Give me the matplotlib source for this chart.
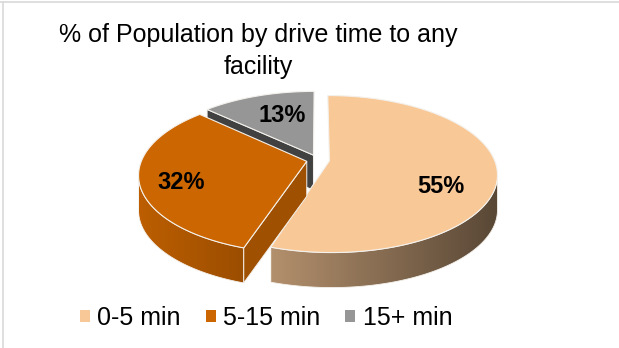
import numpy as np
import matplotlib
matplotlib.use('agg')
from matplotlib import pyplot as plt
from matplotlib.colors import to_rgb
from matplotlib.patches import Polygon, Patch
from matplotlib.lines import Line2D

plt.rcParams['font.family'] = ['Liberation Sans', 'DejaVu Sans']

title = '% of Population by drive time to any\nfacility'
categories = ['0-5 min', '5-15 min', '15+ min']
shares = [55, 32, 13]
colors = ['#F9C897', '#CC6600', '#969696']

# pie geometry in pixels (y grows downwards)
CX, CY = 318, 160
RX, RY = 165, 76
K = 0.168          # perspective: far edge of the disc shrinks
DEPTH = 35
EXPLODE = 0.07


def project(u, v, drop=0.0):
    d = 1 + K * v
    return CX + RX * u / d, CY - RY * v / d + drop


def shade(x):
    return np.interp(x, [140, 270, 495], [0.92, 0.72, 0.36])


def scaled(color, f):
    return tuple(np.clip(np.array(to_rgb(color)) * f, 0, 1))


fig = plt.figure(figsize=(6.19, 3.48), dpi=100)
ax = fig.add_axes([0, 0, 1, 1])
ax.set_xlim(0, 619)
ax.set_ylim(348, 0)
ax.axis('off')

# slices run clockwise from 12 o'clock
bounds = 90 - np.concatenate([[0], np.cumsum(shares)]) * 3.6
slices = []
for i in range(len(shares)):
    a0, a1 = bounds[i + 1], bounds[i]
    mid = np.radians((a0 + a1) / 2)
    slices.append((i, a0, a1, mid))

label_spots = {0: (0.71, -18), 1: (0.77, 6), 2: (0.63, -3.6)}
edge = '#f4f1ec'
z = 1
for i, a0, a1, mid in sorted(slices, key=lambda s: -np.sin(s[3])):
    base = colors[i]
    ox, oy = EXPLODE * np.cos(mid), EXPLODE * np.sin(mid)
    th = np.radians(np.linspace(a0, a1, 400))
    ru, rv = ox + np.cos(th), oy + np.sin(th)
    tx, ty = project(ru, rv)
    bx, by = project(ru, rv, DEPTH)
    axx, axy = project(ox, oy)

    # outer rim, only the part turned towards the viewer, shaded left to right
    seen = np.where(np.diff(tx) > 0)[0]
    if len(seen):
        j0, j1 = seen[0], seen[-1] + 1
        rim = np.column_stack([np.r_[tx[j0:j1 + 1], bx[j0:j1 + 1][::-1]],
                               np.r_[ty[j0:j1 + 1], by[j0:j1 + 1][::-1]]])
        clip = Polygon(rim, closed=True, fc='none', ec='none', transform=ax.transData)
        ax.add_patch(clip)
        xs = np.linspace(rim[:, 0].min(), rim[:, 0].max(), 300)
        grad = np.array([[scaled(base, shade(x)) for x in xs]])
        im = ax.imshow(grad, extent=(xs[0], xs[-1], rim[:, 1].max(), rim[:, 1].min()),
                       aspect='auto', interpolation='bilinear', zorder=z)
        im.set_clip_path(clip)
        ax.add_patch(Polygon(rim, closed=True, fc='none', ec=edge, lw=0.6, zorder=z))
        z += 1

    # cut faces
    for ang, nrm in ((a1, a1 + 90), (a0, a0 - 90)):
        n = np.radians(nrm)
        if np.sin(n) > -1e-6:
            continue
        a = np.radians(ang)
        px, py = project(ox + np.cos(a), oy + np.sin(a))
        face = [(axx, axy), (px, py), (px, py + DEPTH), (axx, axy + DEPTH)]
        f = 0.78 if np.cos(n) > 0 else 0.43
        ax.add_patch(Polygon(face, closed=True, fc=scaled(base, f), ec=edge,
                             lw=0.7, zorder=z))
        z += 1

    top = np.column_stack([np.r_[axx, tx], np.r_[axy, ty]])
    ax.add_patch(Polygon(top, closed=True, fc=base, ec=edge, lw=0.8, zorder=z))
    z += 1

    r, shift = label_spots[i]
    la = mid + np.radians(shift)
    lx, ly = project(ox + r * np.cos(la), oy + r * np.sin(la))
    ax.text(lx, ly, f'{shares[i]}%', ha='center', va='center', fontsize=17,
            fontweight='bold', color='black', zorder=50)

ax.set_xlim(0, 619)
ax.set_ylim(348, 0)

fig.text(258 / 619, 1 - 51 / 348, title, ha='center', va='center',
         fontsize=18, linespacing=1.38, color='black')

handles = [Patch(fc=c, ec='none') for c in colors]
fig.legend(handles, categories, loc='center', bbox_to_anchor=(266 / 619, 1 - 318 / 348),
           ncol=3, frameon=False, fontsize=18, handlelength=0.4, handleheight=0.4,
           handletextpad=0.3, columnspacing=1.0, borderaxespad=0)

# thin sheet border
fig.add_artist(Line2D([0, 1], [1 - 1.5 / 348] * 2, color='#d9d9d9', lw=1.2))
fig.add_artist(Line2D([2.5 / 619] * 2, [0, 1 - 1.5 / 348], color='#d9d9d9', lw=1.2))

fig.savefig('out.png', dpi=100, facecolor='white')
